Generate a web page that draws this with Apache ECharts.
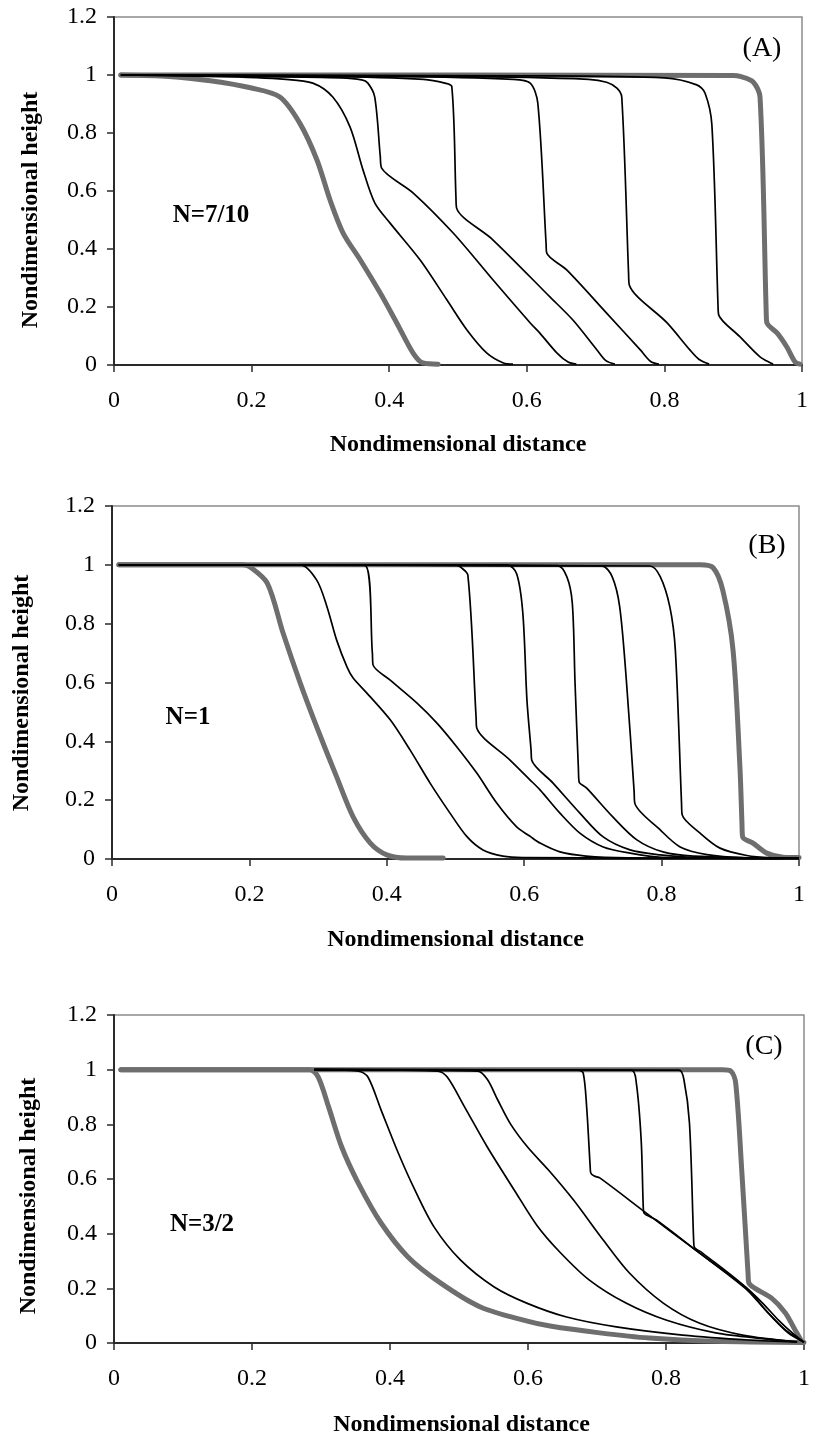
<!DOCTYPE html>
<html>
<head>
<meta charset="utf-8">
<script src="https://cdn.jsdelivr.net/npm/echarts@6/dist/echarts.min.js"></script>
<style>
  html, body { margin: 0; padding: 0; background: #fff; }
  #chart { width: 813px; height: 1437px; }
</style>
</head>
<body>
<div id="chart"></div>
<script>
// Height profiles [distance, height] for three flow indices.
// Each panel: first (grey) profile, intermediate (black) profiles, last (grey) profile.

const xTicks = [0, 0.2, 0.4, 0.6, 0.8, 1];
const yTicks = [0, 0.2, 0.4, 0.6, 0.8, 1, 1.2];
const xTitle = 'Nondimensional distance';
const yTitle = 'Nondimensional height';
const panelTags = ['(A)', '(B)', '(C)'];
const panelIndex = ['N=7/10', 'N=1', 'N=3/2'];

// ---- Panel A, N = 7/10 ----
const a_first = [[0.01,1],[0.08,0.995],[0.14,0.98],[0.2,0.955],[0.241,0.924],[0.27,0.834],[0.295,0.707],[0.314,0.569],[0.333,0.455],[0.358,0.362],[0.387,0.248],[0.411,0.145],[0.435,0.04],[0.449,0.007],[0.471,0.003]];
const a_p1 = [[0.01,1],[0.15,0.995],[0.25,0.985],[0.289,0.972],[0.318,0.924],[0.343,0.821],[0.362,0.672],[0.379,0.559],[0.401,0.49],[0.445,0.362],[0.484,0.224],[0.513,0.121],[0.542,0.041],[0.566,0.007],[0.58,0.003]];
const a_p2 = [[0.01,1],[0.2,0.995],[0.33,0.99],[0.36,0.983],[0.369,0.972],[0.379,0.924],[0.387,0.72],[0.389,0.679],[0.435,0.593],[0.493,0.455],[0.551,0.293],[0.605,0.145],[0.619,0.11],[0.644,0.041],[0.66,0.01],[0.672,0.003]];
const a_p3 = [[0.01,1],[0.3,0.995],[0.45,0.985],[0.481,0.972],[0.491,0.96],[0.497,0.58],[0.498,0.541],[0.551,0.431],[0.634,0.234],[0.667,0.155],[0.702,0.052],[0.715,0.015],[0.728,0.003]];
const a_p4 = [[0.01,1],[0.4,0.995],[0.58,0.985],[0.605,0.972],[0.616,0.903],[0.628,0.42],[0.629,0.386],[0.658,0.328],[0.716,0.179],[0.765,0.052],[0.78,0.012],[0.792,0.003]];
const a_p5 = [[0.01,1],[0.5,0.995],[0.69,0.985],[0.716,0.975],[0.731,0.955],[0.738,0.924],[0.748,0.31],[0.749,0.276],[0.804,0.145],[0.837,0.052],[0.85,0.02],[0.865,0.003]];
const a_p6 = [[0.01,1],[0.6,0.997],[0.8,0.99],[0.847,0.966],[0.859,0.938],[0.869,0.828],[0.878,0.2],[0.879,0.172],[0.91,0.097],[0.939,0.028],[0.958,0.003]];
const a_last = [[0.01,1],[0.5,1],[0.9,0.998],[0.91,0.995],[0.929,0.976],[0.939,0.924],[0.948,0.18],[0.949,0.145],[0.964,0.11],[0.978,0.062],[0.99,0.01],[0.997,0.003]];

// ---- Panel B, N = 1 ----
const b_first = [[0.01,1],[0.19,1],[0.201,0.993],[0.226,0.938],[0.249,0.768],[0.274,0.598],[0.298,0.449],[0.327,0.279],[0.351,0.143],[0.376,0.054],[0.4,0.014],[0.429,0.003],[0.482,0.003]];
const b_p1 = [[0.01,1],[0.274,1],[0.298,0.948],[0.313,0.857],[0.327,0.744],[0.342,0.653],[0.351,0.615],[0.371,0.564],[0.405,0.473],[0.434,0.37],[0.463,0.258],[0.492,0.156],[0.517,0.075],[0.54,0.031],[0.569,0.01],[0.598,0.005],[1,0.002]];
const b_p2 = [[0.01,1],[0.368,0.998],[0.379,0.7],[0.38,0.66],[0.405,0.608],[0.444,0.53],[0.473,0.462],[0.502,0.381],[0.531,0.292],[0.56,0.19],[0.589,0.109],[0.608,0.078],[0.623,0.054],[0.652,0.024],[0.69,0.01],[0.75,0.004],[1,0.002]];
const b_p3 = [[0.01,1],[0.5,1],[0.507,0.993],[0.518,0.965],[0.53,0.48],[0.531,0.445],[0.579,0.337],[0.608,0.27],[0.623,0.235],[0.652,0.156],[0.681,0.088],[0.715,0.041],[0.754,0.02],[0.8,0.006],[1,0.002]];
const b_p4 = [[0.01,1],[0.575,1],[0.589,0.97],[0.598,0.836],[0.604,0.54],[0.61,0.37],[0.611,0.336],[0.642,0.258],[0.681,0.156],[0.715,0.075],[0.754,0.031],[0.798,0.014],[0.85,0.005],[1,0.002]];
const b_p5 = [[0.01,1],[0.648,0.997],[0.662,0.96],[0.67,0.87],[0.674,0.598],[0.679,0.3],[0.68,0.262],[0.691,0.241],[0.729,0.143],[0.764,0.065],[0.802,0.024],[0.846,0.01],[1,0.002]];
const b_p6 = [[0.01,1],[0.713,0.996],[0.728,0.96],[0.739,0.857],[0.749,0.598],[0.76,0.23],[0.761,0.19],[0.798,0.099],[0.827,0.041],[0.866,0.015],[0.92,0.004],[1,0.002]];
const b_p7 = [[0.01,1],[0.783,0.996],[0.798,0.96],[0.812,0.857],[0.82,0.71],[0.829,0.19],[0.83,0.15],[0.856,0.088],[0.885,0.037],[0.924,0.012],[0.96,0.004],[1,0.002]];
const b_last = [[0.01,1],[0.856,1],[0.875,0.99],[0.889,0.914],[0.904,0.71],[0.914,0.313],[0.917,0.12],[0.918,0.075],[0.933,0.054],[0.953,0.02],[0.977,0.006],[1,0.005]];

// ---- Panel C, N = 3/2 ----
const c_first = [[0.01,1],[0.284,1],[0.296,0.973],[0.311,0.864],[0.33,0.717],[0.354,0.585],[0.387,0.439],[0.426,0.315],[0.473,0.22],[0.531,0.132],[0.599,0.08],[0.632,0.062],[0.704,0.037],[0.776,0.018],[0.872,0.006],[1,0.002]];
const c_p1 = [[0.29,1],[0.354,0.995],[0.368,0.973],[0.387,0.853],[0.412,0.695],[0.436,0.56],[0.464,0.424],[0.502,0.304],[0.551,0.205],[0.599,0.145],[0.656,0.095],[0.728,0.059],[0.824,0.029],[0.92,0.011],[0.99,0.004]];
const c_p2 = [[0.29,1],[0.469,0.995],[0.483,0.973],[0.508,0.864],[0.541,0.717],[0.58,0.56],[0.613,0.43],[0.646,0.333],[0.689,0.23],[0.742,0.146],[0.8,0.084],[0.872,0.037],[0.944,0.015],[0.99,0.004]];
const c_p3 = [[0.29,1],[0.527,0.995],[0.541,0.965],[0.556,0.89],[0.575,0.8],[0.6,0.715],[0.63,0.632],[0.666,0.523],[0.709,0.377],[0.747,0.256],[0.796,0.146],[0.848,0.073],[0.911,0.029],[0.99,0.004]];
const c_p4 = [[0.29,1],[0.673,0.998],[0.68,0.988],[0.685,0.864],[0.69,0.65],[0.691,0.622],[0.696,0.611],[0.704,0.604],[0.771,0.476],[0.843,0.34],[0.915,0.205],[0.94,0.146],[0.963,0.084],[0.983,0.037],[1,0.003]];
const c_p5 = [[0.29,1],[0.75,0.998],[0.757,0.951],[0.764,0.743],[0.767,0.5],[0.768,0.476],[0.786,0.45],[0.843,0.34],[0.915,0.2],[0.944,0.121],[0.973,0.048],[1,0.003]];
const c_p6 = [[0.29,1],[0.819,0.998],[0.826,0.963],[0.834,0.805],[0.84,0.38],[0.841,0.351],[0.853,0.329],[0.915,0.205],[0.948,0.11],[0.977,0.037],[1,0.003]];
const c_last = [[0.01,1],[0.882,1],[0.894,0.995],[0.901,0.951],[0.91,0.622],[0.919,0.25],[0.92,0.22],[0.929,0.2],[0.953,0.164],[0.973,0.11],[0.987,0.048],[0.997,0.004]];

const panels = [
  { grey: [a_first, a_last], black: [a_p1, a_p2, a_p3, a_p4, a_p5, a_p6] },
  { grey: [b_first, b_last], black: [b_p1, b_p2, b_p3, b_p4, b_p5, b_p6, b_p7] },
  { grey: [c_first, c_last], black: [c_p1, c_p2, c_p3, c_p4, c_p5, c_p6] }
];

// Plot rectangles (px) for the three stacked panels
const boxes = [
  { left: 114, top: 17,   width: 688, height: 348 },
  { left: 112, top: 506,  width: 687, height: 353 },
  { left: 114, top: 1015, width: 695, height: 328 }
];

const FONT = '"Liberation Serif", "Times New Roman", serif';
const AXIS_DARK = '#2a2a2a';
const GREY = '#6e6e6e';
const SMOOTH = 0.3;

const grids = [], xAxes = [], yAxes = [], series = [], graphics = [];

boxes.forEach((b, i) => {
  grids.push({
    left: b.left, top: b.top, width: b.width, height: b.height,
    show: true, borderColor: '#8c8c8c', borderWidth: 1.5, backgroundColor: 'transparent'
  });
  xAxes.push({
    gridIndex: i, type: 'value',
    min: xTicks[0], max: xTicks[xTicks.length - 1], interval: xTicks[1] - xTicks[0],
    axisLine: { show: true, onZero: false, lineStyle: { color: AXIS_DARK, width: 2 } },
    axisTick: { show: true, inside: false, length: 7, lineStyle: { color: AXIS_DARK, width: 1.5 } },
    axisLabel: { margin: 24, color: '#000', fontFamily: FONT, fontSize: 24 },
    splitLine: { show: false }
  });
  yAxes.push({
    gridIndex: i, type: 'value',
    min: yTicks[0], max: yTicks[yTicks.length - 1], interval: yTicks[1] - yTicks[0],
    axisLine: { show: true, onZero: false, lineStyle: { color: AXIS_DARK, width: 2 } },
    axisTick: { show: true, inside: false, length: 7, lineStyle: { color: AXIS_DARK, width: 1.5 } },
    axisLabel: { margin: 17, color: '#000', fontFamily: FONT, fontSize: 24 },
    splitLine: { show: false }
  });

  const p = panels[i];
  p.grey.forEach(d => series.push({
    type: 'line', xAxisIndex: i, yAxisIndex: i, data: d, showSymbol: false, symbol: 'none',
    smooth: SMOOTH, lineStyle: { color: GREY, width: 5, cap: 'round', join: 'round' }, z: 2, silent: true
  }));
  p.black.forEach(d => series.push({
    type: 'line', xAxisIndex: i, yAxisIndex: i, data: d, showSymbol: false, symbol: 'none',
    smooth: SMOOTH, lineStyle: { color: '#000', width: 1.7, join: 'round' }, z: 3, silent: true
  }));
});

// Axis titles, panel tags and flow-index labels
const xTitleY = [445, 940, 1425];
const yTitlePos = [[31, 210], [22, 693], [29, 1196]];
const tagPos = [[762, 49], [767, 546], [764, 1047]];
const idxPos = [[211, 216], [188, 718], [202, 1225]];

boxes.forEach((b, i) => {
  graphics.push({
    type: 'text', x: b.left + b.width / 2, y: xTitleY[i],
    style: { text: xTitle, font: 'bold 24px ' + FONT, fill: '#000', textAlign: 'center', textVerticalAlign: 'middle' }
  });
  graphics.push({
    type: 'text', x: yTitlePos[i][0], y: yTitlePos[i][1], rotation: Math.PI / 2,
    style: { text: yTitle, font: 'bold 24px ' + FONT, fill: '#000', textAlign: 'center', textVerticalAlign: 'middle' }
  });
  graphics.push({
    type: 'text', x: tagPos[i][0], y: tagPos[i][1],
    style: { text: panelTags[i], font: '28px ' + FONT, fill: '#000', textAlign: 'center', textVerticalAlign: 'middle' }
  });
  graphics.push({
    type: 'text', x: idxPos[i][0], y: idxPos[i][1],
    style: { text: panelIndex[i], font: 'bold 25px ' + FONT, fill: '#000', textAlign: 'center', textVerticalAlign: 'middle' }
  });
});

const chart = echarts.init(document.getElementById('chart'), null, { renderer: 'canvas' });
chart.setOption({
  animation: false,
  backgroundColor: '#fff',
  grid: grids,
  xAxis: xAxes,
  yAxis: yAxes,
  series: series,
  graphic: graphics
});
</script>
</body>
</html>
